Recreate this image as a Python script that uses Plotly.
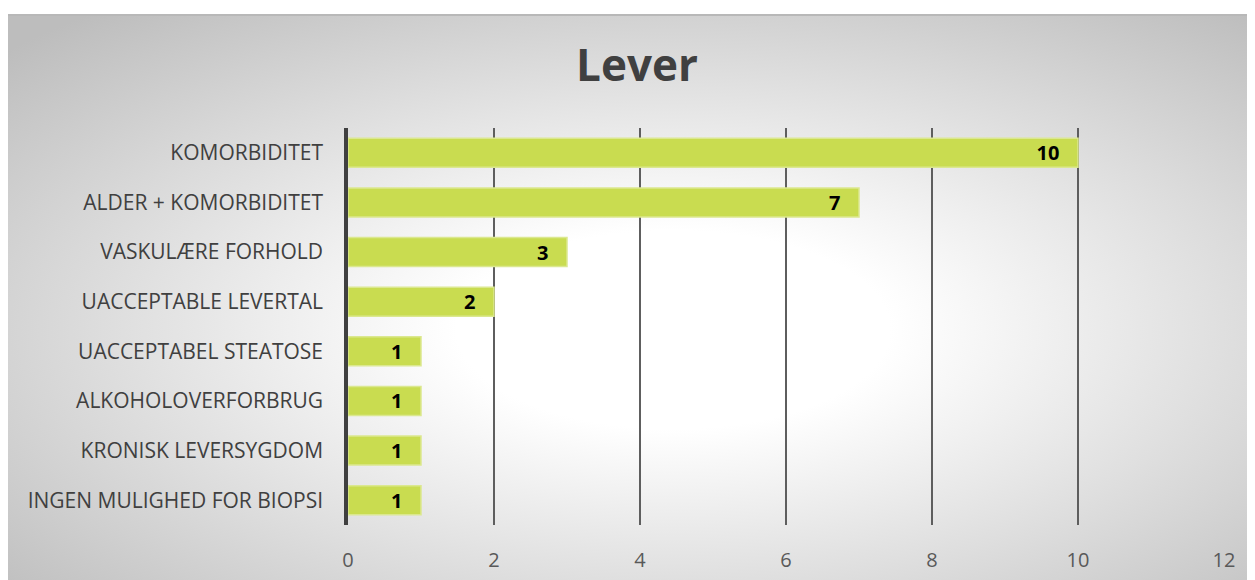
import base64
import plotly.graph_objects as go

categories = [
    "KOMORBIDITET",
    "ALDER + KOMORBIDITET",
    "VASKULÆRE FORHOLD",
    "UACCEPTABLE LEVERTAL",
    "UACCEPTABEL STEATOSE",
    "ALKOHOLOVERFORBRUG",
    "KRONISK LEVERSYGDOM",
    "INGEN MULIGHED FOR BIOPSI",
]
values = [10, 7, 3, 2, 1, 1, 1, 1]
x_ticks = [0, 2, 4, 6, 8, 10, 12]
title = "Lever"

# the page body adds an 8px margin; the figure runs past the window edge
W, H = 1255, 580
L, R, T, B = 340, 39, 120, 63
pw, ph = W - L - R, H - T - B

svg = (
    '<svg xmlns="http://www.w3.org/2000/svg" width="1255" height="574" viewBox="0 0 1255 574" preserveAspectRatio="none">'
    '<defs><radialGradient id="g" cx="0.53" cy="0.55" r="0.72">'
    '<stop offset="0" stop-color="#ffffff"/>'
    '<stop offset="0.24" stop-color="#ffffff"/>'
    '<stop offset="1" stop-color="#bdbdbd"/>'
    '</radialGradient></defs>'
    '<rect x="0" y="0" width="1255" height="574" fill="url(#g)"/>'
    '<line x1="0" y1="1" x2="1255" y2="1" stroke="#b8b8b8" stroke-width="2"/>'
    '</svg>'
)
src = "data:image/svg+xml;base64," + base64.b64encode(svg.encode()).decode()

fig = go.Figure()
fig.add_trace(go.Bar(
    x=values,
    y=categories,
    orientation="h",
    marker=dict(color="#c9dc50", line=dict(color="#dbe88f", width=1.5)),
    text=values,
    texttemplate="<b>%{x}</b>\u00a0\u00a0\u00a0",
    textposition="inside",
    insidetextanchor="end",
    textangle=0,
    constraintext="none",
    textfont=dict(family="Open Sans", size=20, color="#000000"),
    width=0.585,
    hoverinfo="skip",
))

fig.update_layout(
    width=W, height=H,
    margin=dict(l=L, r=R, t=T, b=B),
    paper_bgcolor="#ffffff",
    plot_bgcolor="rgba(0,0,0,0)",
    showlegend=False,
    title=dict(
        text="<b>" + title + "</b>",
        x=629 / W, xref="container", xanchor="center",
        y=1 - 58 / H, yref="container", yanchor="middle",
        font=dict(family="Open Sans", size=44, color="#404040"),
    ),
    images=[dict(
        source=src, xref="paper", yref="paper",
        x=-L / pw, y=1 + (T - 6) / ph,
        sizex=W / pw, sizey=(H - 6) / ph,
        xanchor="left", yanchor="top", sizing="stretch", layer="below",
    )],
    xaxis=dict(
        range=[0, 12], tickvals=x_ticks, showgrid=True,
        gridcolor="#5e5e5e", gridwidth=1.6, zeroline=False, showline=False,
        tickfont=dict(family="Open Sans", size=20, color="#595959"),
        ticklabelstandoff=21, fixedrange=True,
    ),
    yaxis=dict(
        categoryorder="array", categoryarray=categories[::-1],
        showline=True, linecolor="#404040", linewidth=3.5,
        showgrid=False, zeroline=False,
        tickfont=dict(family="Open Sans", size=21, color="#404040"),
        ticklabelstandoff=17, fixedrange=True,
    ),
)

fig.write_html("out.html")
